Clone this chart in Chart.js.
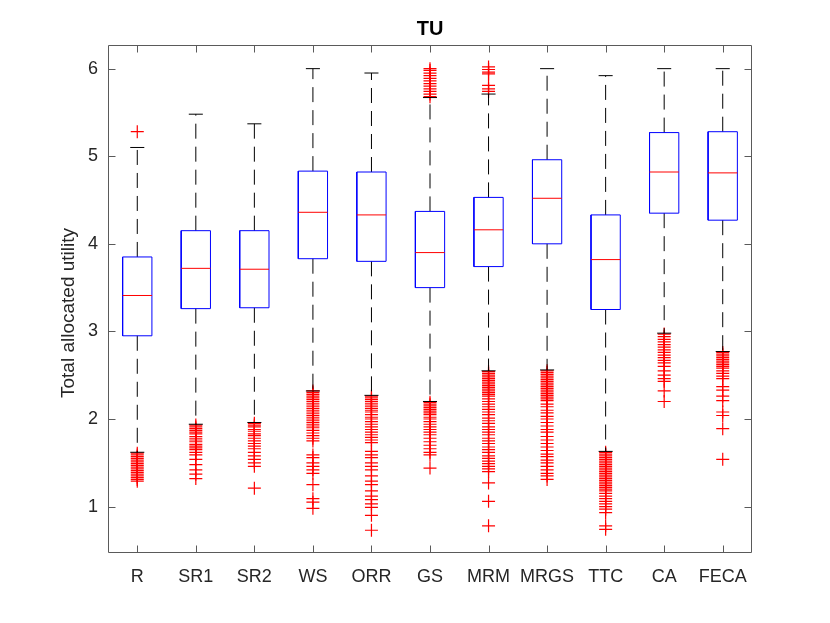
<!DOCTYPE html>
<html>
<head>
<meta charset="utf-8">
<title>TU</title>
<script src="https://cdn.jsdelivr.net/npm/chart.js@4.4.1/dist/chart.umd.min.js"></script>
<style>
  html, body { margin: 0; padding: 0; background: #fff; }
  #wrap { width: 830px; height: 623px; }
</style>
</head>
<body>
<div id="wrap"><canvas id="boxChart"></canvas></div>
<script>
// box statistics
const categories = ['R', 'SR1', 'SR2', 'WS', 'ORR', 'GS', 'MRM', 'MRGS', 'TTC', 'CA', 'FECA'];
const q1 = [2.95, 3.26, 3.27, 3.83, 3.80, 3.50, 3.74, 4.00, 3.25, 4.35, 4.27];
const medians = [3.41, 3.72, 3.71, 4.36, 4.33, 3.90, 4.16, 4.52, 3.82, 4.82, 4.81];
const q3 = [3.85, 4.15, 4.15, 4.83, 4.82, 4.37, 4.53, 4.96, 4.33, 5.27, 5.28];
const whiskerLow = [1.62, 1.94, 1.96, 2.32, 2.27, 2.20, 2.55, 2.56, 1.63, 2.98, 2.77];
const whiskerHigh = [5.10, 5.48, 5.37, 6.00, 5.95, 5.67, 5.71, 6.00, 5.92, 6.00, 6.00];
const yTicks = [1, 2, 3, 4, 5, 6];
const yLabel = 'Total allocated utility';

// outliers per group
const outR = [5.28, 1.61, 1.59, 1.57, 1.55, 1.53, 1.51, 1.49, 1.47, 1.45, 1.43, 1.41, 1.39, 1.37, 1.35, 1.33, 1.31, 1.29];
const outSR1 = [1.93, 1.91, 1.89, 1.87, 1.85, 1.83, 1.80, 1.78, 1.76, 1.74, 1.71, 1.69, 1.67, 1.65, 1.62, 1.59, 1.54, 1.48, 1.42, 1.37, 1.32];
const outSR2 = [1.95, 1.93, 1.91, 1.88, 1.86, 1.83, 1.81, 1.78, 1.75, 1.72, 1.69, 1.66, 1.62, 1.58, 1.54, 1.50, 1.46, 1.21];
const outWS = [2.32, 2.30, 2.28, 2.26, 2.24, 2.22, 2.20, 2.18, 2.16, 2.14, 2.12, 2.10, 2.08, 2.06, 2.04, 2.02, 2.00, 1.98,
  1.96, 1.94, 1.92, 1.90, 1.87, 1.84, 1.81, 1.78, 1.75, 1.59, 1.56, 1.50, 1.46, 1.42, 1.38, 1.25, 1.09, 1.05, 0.98];
const outORR = [2.26, 2.24, 2.22, 2.20, 2.18, 2.16, 2.14, 2.12, 2.10, 2.08, 2.05, 2.02, 2.00, 1.97, 1.94, 1.91, 1.88,
  1.85, 1.82, 1.79, 1.76, 1.73, 1.63, 1.59, 1.56, 1.50, 1.46, 1.42, 1.35, 1.29, 1.25, 1.18, 1.12, 1.08, 1.03, 0.99, 0.90, 0.73];
const outGS = [5.68, 5.71, 5.74, 5.77, 5.80, 5.83, 5.86, 5.89, 5.92, 5.95, 5.98, 6.00,
  2.19, 2.17, 2.15, 2.13, 2.11, 2.09, 2.07, 2.05, 2.02, 2.00, 1.97, 1.94, 1.91, 1.88, 1.85, 1.82, 1.78, 1.74, 1.70, 1.66, 1.62, 1.59, 1.44];
const outMRM = [6.02, 5.99, 5.96, 5.94, 5.81, 5.77, 5.74,
  2.54, 2.52, 2.50, 2.48, 2.46, 2.44, 2.42, 2.40, 2.38, 2.36, 2.34, 2.32, 2.30, 2.28, 2.26, 2.23, 2.20, 2.17, 2.14,
  2.11, 2.08, 2.05, 2.01, 1.98, 1.95, 1.91, 1.88, 1.85, 1.82, 1.78, 1.75, 1.72, 1.68, 1.65, 1.62, 1.58, 1.55, 1.52,
  1.49, 1.46, 1.43, 1.40, 1.27, 1.06, 0.78];
const outMRGS = [2.55, 2.53, 2.51, 2.49, 2.47, 2.45, 2.43, 2.41, 2.39, 2.37, 2.35, 2.33, 2.31, 2.29, 2.27, 2.25, 2.23,
  2.21, 2.17, 2.14, 2.10, 2.07, 2.03, 2.00, 1.96, 1.92, 1.88, 1.85, 1.80, 1.76, 1.72, 1.68, 1.64, 1.60, 1.57, 1.53,
  1.50, 1.46, 1.42, 1.38, 1.35, 1.31];
const outTTC = [1.62, 1.60, 1.58, 1.56, 1.54, 1.52, 1.50, 1.48, 1.46, 1.44, 1.42, 1.40, 1.38, 1.36, 1.34, 1.32, 1.30,
  1.28, 1.26, 1.24, 1.22, 1.20, 1.18, 1.15, 1.12, 1.09, 1.06, 1.03, 1.00, 0.97, 0.93, 0.78, 0.74];
const outCA = [2.97, 2.94, 2.91, 2.88, 2.85, 2.82, 2.79, 2.76, 2.73, 2.70, 2.67, 2.64, 2.60, 2.55, 2.50, 2.46, 2.43, 2.32, 2.20];
const outFECA = [2.76, 2.74, 2.72, 2.70, 2.68, 2.66, 2.64, 2.62, 2.60, 2.58, 2.55, 2.52, 2.49, 2.46, 2.37, 2.33,
  2.26, 2.21, 2.08, 2.04, 1.89, 1.54];
const outliers = [outR, outSR1, outSR2, outWS, outORR, outGS, outMRM, outMRGS, outTTC, outCA, outFECA];

const boxHalf = 0.25;
const capHalf = 0.12;
const FONT = '"Liberation Sans", Arial, Helvetica, sans-serif';

// build a polyline per group, separated by gaps
function pieces(fn) {
  const pts = [];
  categories.forEach((c, i) => {
    fn(i + 1, i).forEach(p => pts.push(p));
    pts.push({ x: i + 1, y: null });
  });
  return pts;
}

const boxPts = pieces((x, i) => [
  { x: x - boxHalf, y: q1[i] }, { x: x + boxHalf, y: q1[i] },
  { x: x + boxHalf, y: q3[i] }, { x: x - boxHalf, y: q3[i] },
  { x: x - boxHalf, y: q1[i] }
]);
const medianPts = pieces((x, i) => [{ x: x - boxHalf, y: medians[i] }, { x: x + boxHalf, y: medians[i] }]);
const capPts = pieces((x, i) => [
  { x: x - capHalf, y: whiskerHigh[i] }, { x: x + capHalf, y: whiskerHigh[i] },
  { x: x, y: null },
  { x: x - capHalf, y: whiskerLow[i] }, { x: x + capHalf, y: whiskerLow[i] }
]);
const whiskerPts = pieces((x, i) => [
  { x: x, y: q3[i] }, { x: x, y: whiskerHigh[i] },
  { x: x, y: null },
  { x: x, y: q1[i] }, { x: x, y: whiskerLow[i] }
]);
const outlierPts = [];
outliers.forEach((list, i) => list.forEach(v => outlierPts.push({ x: i + 1, y: v })));

function lineSet(data, color, dash) {
  return {
    data: data, showLine: true, spanGaps: false,
    borderColor: color, borderWidth: 1, borderDash: dash || [],
    pointRadius: 0, pointHoverRadius: 0, pointHitRadius: 0, fill: false
  };
}

// frame with inward ticks on all four sides, like MATLAB "box on", plus the y label
const frame = {
  id: 'frame',
  afterDraw(chart) {
    const { ctx, chartArea: a, scales: { x, y } } = chart;
    const L = Math.round(a.left) + 0.5, R = Math.round(a.right) - 0.5;
    const T = Math.round(a.top) + 0.5, B = Math.round(a.bottom) - 0.5;
    const len = 7;
    ctx.save();
    ctx.strokeStyle = '#5a5a5a';
    ctx.lineWidth = 1;
    ctx.beginPath();
    ctx.rect(L, T, R - L, B - T);
    categories.forEach((c, i) => {
      const px = Math.round(x.getPixelForValue(i + 1)) + 0.5;
      ctx.moveTo(px, B); ctx.lineTo(px, B - len);
      ctx.moveTo(px, T); ctx.lineTo(px, T + len);
    });
    yTicks.forEach(v => {
      const py = Math.round(y.getPixelForValue(v)) + 0.5;
      ctx.moveTo(L, py); ctx.lineTo(L + len, py);
      ctx.moveTo(R, py); ctx.lineTo(R - len, py);
    });
    ctx.stroke();

    // axis label, sitting a little below the axis centre as in the figure
    ctx.translate(69, (a.top + a.bottom) / 2 + 14);
    ctx.rotate(-Math.PI / 2);
    ctx.fillStyle = '#262626';
    ctx.font = '19px ' + FONT;
    ctx.textAlign = 'center';
    ctx.textBaseline = 'middle';
    ctx.fillText(yLabel, 0, 0);
    ctx.restore();
  }
};

const ctx = document.getElementById('boxChart').getContext('2d');
const boxChart = new Chart(ctx, {
  type: 'scatter',
  data: {
    datasets: [
      lineSet(capPts, '#000000'),
      lineSet(medianPts, '#ff0000'),
      lineSet(boxPts, '#0000ff'),
      lineSet(whiskerPts, '#000000', [15, 8]),
      {
        data: outlierPts,
        pointStyle: 'cross',
        pointRadius: 6.5,
        pointHoverRadius: 6.5,
        borderColor: '#ff0000',
        backgroundColor: '#ff0000',
        borderWidth: 1.2,
        showLine: false
      }
    ]
  },
  options: {
    responsive: true,
    maintainAspectRatio: false,
    animation: false,
    events: [],
    layout: { padding: { top: 0, right: 78, left: 0, bottom: 0 } },
    plugins: {
      legend: { display: false },
      tooltip: { enabled: false },
      title: {
        display: true,
        text: 'TU',
        fullSize: false,
        color: '#000000',
        font: { family: FONT, size: 20, weight: 'bold' },
        padding: { top: 17, bottom: 4 }
      }
    },
    scales: {
      x: {
        type: 'linear',
        min: 0.5,
        max: 11.5,
        afterBuildTicks: (scale) => { scale.ticks = categories.map((c, i) => ({ value: i + 1 })); },
        afterFit: (scale) => { scale.height = 70; },
        grid: { display: false, drawTicks: false },
        border: { display: false },
        ticks: {
          autoSkip: false,
          maxRotation: 0,
          padding: 13,
          color: '#262626',
          font: { family: FONT, size: 18 },
          callback: (v) => categories[Math.round(v) - 1]
        }
      },
      y: {
        type: 'linear',
        min: 0.47,
        max: 6.27,
        afterBuildTicks: (scale) => { scale.ticks = yTicks.map(v => ({ value: v })); },
        afterFit: (scale) => { scale.width = 108; },
        grid: { display: false, drawTicks: false },
        border: { display: false },
        ticks: {
          padding: 10,
          color: '#262626',
          font: { family: FONT, size: 18 }
        }
      }
    }
  },
  plugins: [frame]
});
</script>
</body>
</html>
